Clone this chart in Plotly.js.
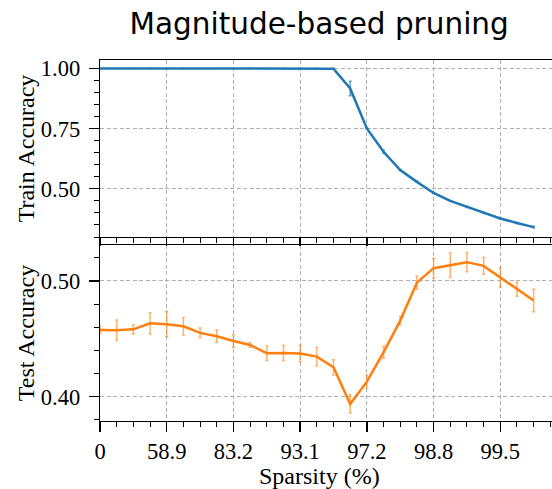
<!DOCTYPE html>
<html><head><meta charset="utf-8">
<script src="https://cdn.plot.ly/plotly-3.0.1.min.js"></script>
<style>html,body{margin:0;padding:0;overflow:hidden;background:#fff}#wrap{width:552px;height:489px;overflow:hidden}#chart{width:600px;height:489px}</style>
</head><body><div id="wrap"><div id="chart"></div></div>
<script>
const iteration = [0,1,2,3,4,5,6,7,8,9,10,11,12,13,14,15,16,17,18,19,20,21,22,23,24,25,26];
const trainAcc = [1.0,1.0,1.0,1.0,1.0,1.0,1.0,1.0,1.0,1.0,1.0,1.0,1.0,1.0,0.999,0.917,0.751,0.654,0.578,0.529,0.483,0.450,0.425,0.400,0.377,0.358,0.341];
const trainErr = [0,0,0,0,0,0,0,0,0,0,0,0,0,0,0.001,0.030,0.003,0.006,0.002,0.002,0.002,0.002,0.002,0.002,0.002,0.002,0.004];
const testAcc = [0.4576,0.4574,0.4582,0.4634,0.4626,0.4608,0.4551,0.4522,0.4481,0.4447,0.4375,0.4378,0.4372,0.4346,0.4254,0.3937,0.4130,0.4383,0.4657,0.4985,0.5110,0.5136,0.5162,0.5130,0.5029,0.4928,0.4830];
const testErr = [0.0030,0.0089,0.0040,0.0092,0.0108,0.0076,0.0042,0.0055,0.0053,0.0020,0.0063,0.0065,0.0072,0.0080,0.0066,0.0079,0.0058,0.0050,0.0036,0.0058,0.0084,0.0105,0.0084,0.0072,0.0082,0.0060,0.0097];
const tickPositions = [0,4,8,12,16,20,24];
const sparsityLabels = ['0','58.9','83.2','93.1','97.2','98.8','99.5'];

const serif = 'Liberation Serif, Times New Roman, serif';
const gridStyle = {showgrid:true, gridcolor:'#b0b0b0', gridwidth:1, griddash:'4px,2.5px'};

const traces = [
  {x: iteration, y: trainAcc, xaxis:'x2', yaxis:'y2', type:'scatter', mode:'lines',
   line:{color:'#1f77b4', width:2.5},
   error_y:{type:'data', array:trainErr, visible:true, color:'rgba(31,119,180,0.7)', thickness:1.5, width:1.5},
   hoverinfo:'skip', showlegend:false},
  {x: iteration, y: testAcc, xaxis:'x', yaxis:'y', type:'scatter', mode:'lines',
   line:{color:'#ff7f0e', width:2.5},
   error_y:{type:'data', array:testErr, visible:true, color:'rgba(255,127,14,0.6)', thickness:1.5, width:1.5},
   hoverinfo:'skip', showlegend:false}
];

const xCommon = Object.assign({
  range:[0,28], tickmode:'array', tickvals:tickPositions,
  ticks:'outside', ticklen:10, tickwidth:1.3, tickcolor:'#000',
  showline:true, linecolor:'#000', linewidth:1.3, zeroline:false,
  tickfont:{family:serif, size:22.5},
  minor:{tickmode:'linear', tick0:0, dtick:1, ticks:'outside', ticklen:5, tickwidth:1, tickcolor:'#000', showgrid:false}
}, gridStyle);

const yCommon = Object.assign({
  ticks:'outside', ticklen:10, tickwidth:1.3, tickcolor:'#000', showline:true, linecolor:'#000', linewidth:1.3, zeroline:false,
  tickfont:{family:serif, size:22.5}, ticklabelstandoff:4, tickformat:'.2f', tickmode:'linear', tick0:0
}, gridStyle);

const layout = {
  width:600, height:489,
  margin:{l:100, r:33.33, t:60, b:68},
  paper_bgcolor:'#fff', plot_bgcolor:'#fff',
  font:{family:serif, size:22, color:'#000'},
  title:{text:'Magnitude-based pruning', font:{family:'DejaVu Sans, sans-serif', size:29.5, color:'#000'},
         xref:'paper', x:(319-100)/466.67, xanchor:'center', yref:'container', y:1-24/489, yanchor:'middle'},
  xaxis: Object.assign({}, xCommon, {anchor:'y', domain:[0,1], ticktext:sparsityLabels, showticklabels:true, mirror:true}),
  xaxis2: Object.assign({}, xCommon, {anchor:'y2', matches:'x', domain:[0,1], ticktext:sparsityLabels, showticklabels:false, mirror:true,
          ticklen:8, minor:{tickmode:'linear', tick0:0, dtick:1, ticks:'outside', ticklen:5, tickwidth:1, tickcolor:'#000', showgrid:false}}),
  yaxis: Object.assign({}, yCommon, {domain:[0,0.4875], anchor:'x', range:[0.379,0.531], dtick:0.1,
          minor:{tickmode:'linear', tick0:0, dtick:0.02, ticks:'outside', ticklen:5, tickwidth:1, tickcolor:'#000', showgrid:false},
          title:{text:'Test Accuracy', font:{family:serif, size:24}}}),
  yaxis2: Object.assign({}, yCommon, {domain:[0.5097,1], anchor:'x2', range:[0.30,1.035], dtick:0.25,
          minor:{tickmode:'linear', tick0:0, dtick:0.05, ticks:'outside', ticklen:5, tickwidth:1, tickcolor:'#000', showgrid:false},
          title:{text:'Train Accuracy', font:{family:serif, size:24}}}),
  annotations:[
    {text:'Sparsity (%)', xref:'paper', yref:'paper', x:(319.5-100)/466.67, y:-(476-421)/361, xanchor:'center', yanchor:'middle',
     showarrow:false, font:{family:serif, size:24, color:'#000'}}
  ]
};

Plotly.newPlot('chart', traces, layout, {displayModeBar:false, staticPlot:true});
</script></body></html>
